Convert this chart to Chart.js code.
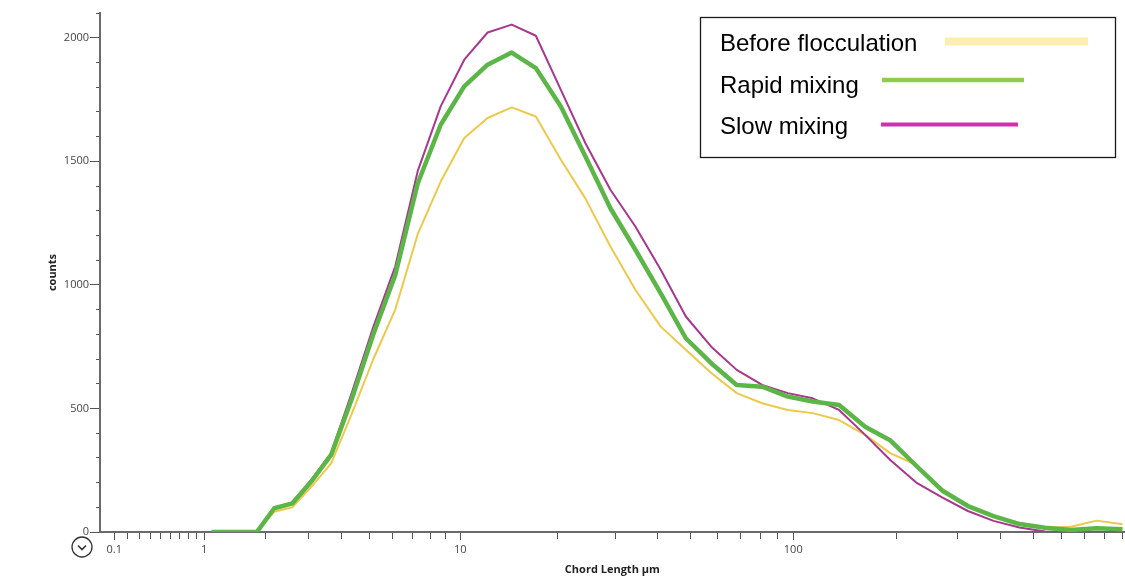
<!DOCTYPE html>
<html>
<head>
<meta charset="utf-8">
<script src="https://cdn.jsdelivr.net/npm/chart.js@4/dist/chart.umd.min.js"></script>
<style>
  html, body { margin: 0; padding: 0; background: #fff; }
  #wrap { width: 1125px; height: 576px; }
</style>
</head>
<body>
<div id="wrap"><canvas id="cld-chart" width="1125" height="576"></canvas></div>
<script>
// Chord length bins (µm) and counts per bin
const chordLength = [1.10, 1.30, 1.55, 1.84, 2.19, 2.60, 3.08, 3.66, 4.35, 5.17,
    6.14, 7.29, 8.66, 10.3, 12.2, 14.5, 17.2, 20.5, 24.3, 28.9,
    34.3, 40.8, 48.4, 57.5, 68.3, 81.1, 96.4, 114, 136, 162,
    192, 228, 271, 322, 382, 454, 539, 640, 760, 903];

const beforeFlocculation = [0, 0, 0, 0, 82, 100, 183, 278, 480, 700,
    900, 1205, 1418, 1594, 1675, 1718, 1681, 1506, 1350, 1155,
    980, 831, 737, 643, 562, 521, 494, 481, 453, 393,
    318, 272, 175, 105, 64, 38, 17, 21, 46, 31];

const rapidMixing = [0, 0, 0, 0, 96, 116, 204, 312, 540, 800,
    1040, 1410, 1648, 1803, 1891, 1940, 1877, 1722, 1520, 1310,
    1142, 966, 784, 683, 595, 588, 548, 528, 514, 426,
    370, 268, 168, 105, 64, 32, 17, 8, 15, 11];

const slowMixing = [0, 0, 0, 0, 98, 118, 210, 320, 565, 830,
    1075, 1460, 1722, 1911, 2021, 2053, 2008, 1789, 1574, 1385,
    1236, 1061, 872, 750, 656, 595, 562, 541, 494, 393,
    290, 200, 140, 85, 45, 18, 2, 0, 0, 0];

const seriesLabels = ['Before flocculation', 'Rapid mixing', 'Slow mixing'];

// x axis ticks: every unit of each decade, labels only on the decades
const xTicks = [0.1, 0.2, 0.3, 0.4, 0.5, 0.6, 0.7, 0.8, 0.9,
    1, 2, 3, 4, 5, 6, 7, 8, 9,
    10, 20, 30, 40, 50, 60, 70, 80, 90,
    100, 200, 300, 400, 500, 600, 700, 800, 900];
const xLabels = [0.1, 1, 10, 100];

// log10(1 + x) axis, so that zero sits on the left edge
class Log1pScale extends Chart.Scale {
    static id = 'log1p';
    static defaults = {};

    determineDataLimits() {
        this.min = this.options.min;
        this.max = this.options.max;
    }
    buildTicks() {
        return xTicks.map(v => ({ value: v, major: xLabels.includes(v) }));
    }
    getLabelForValue(v) {
        return String(v);
    }
    configure() {
        super.configure();
        this._start = Math.log10(1 + this.min);
        this._range = Math.log10(1 + this.max) - this._start;
    }
    getPixelForValue(v) {
        return this.getPixelForDecimal((Math.log10(1 + v) - this._start) / this._range);
    }
    getValueForPixel(p) {
        return Math.pow(10, this._start + this.getDecimalForPixel(p) * this._range) - 1;
    }
}
Chart.register(Log1pScale);

const lineColors = ['#ecc94b', '#5cb547', '#a8378f'];
const lineWidths = [2, 4.5, 2];
const drawOrder = [2, 0, 1];

// legend swatches are lighter than the plotted lines
const legendColors = ['#fcedb3', '#8fcb4c', '#d42eae'];
const legendWidths = [8, 4.5, 4];

function toPoints(values) {
    return chordLength.map((x, i) => ({ x: x, y: values[i] }));
}

// Boxed legend in the upper right
const boxLegend = {
    id: 'boxLegend',
    afterDraw(chart) {
        const ctx = chart.ctx;
        ctx.save();
        ctx.fillStyle = '#fff';
        ctx.fillRect(700, 17, 415, 140);
        ctx.strokeStyle = '#1a1a1a';
        ctx.lineWidth = 1.3;
        ctx.strokeRect(700.5, 17.5, 415, 140);

        const rows = [
            { textY: 51, lineY: 41.5, x1: 945, x2: 1088 },
            { textY: 93, lineY: 80, x1: 882, x2: 1024 },
            { textY: 134, lineY: 124.5, x1: 881, x2: 1018 }
        ];
        ctx.font = '24px "Liberation Sans", Arial, sans-serif';
        ctx.textBaseline = 'alphabetic';
        rows.forEach((r, i) => {
            ctx.fillStyle = '#000';
            ctx.fillText(chart.data.datasets[i].label, 720, r.textY);
            ctx.strokeStyle = legendColors[i];
            ctx.lineWidth = legendWidths[i];
            ctx.beginPath();
            ctx.moveTo(r.x1, r.lineY);
            ctx.lineTo(r.x2, r.lineY);
            ctx.stroke();
        });
        ctx.restore();
    }
};

// Small round expand button under the y axis
const expandButton = {
    id: 'expandButton',
    afterDraw(chart) {
        const ctx = chart.ctx;
        const cx = chart.chartArea.left - 18;
        const cy = chart.chartArea.bottom + 15;
        ctx.save();
        ctx.strokeStyle = '#333';
        ctx.lineWidth = 1.3;
        ctx.beginPath();
        ctx.arc(cx, cy, 10, 0, Math.PI * 2);
        ctx.stroke();
        ctx.lineWidth = 1.6;
        ctx.beginPath();
        ctx.moveTo(cx - 4, cy - 1.5);
        ctx.lineTo(cx, cy + 2.5);
        ctx.lineTo(cx + 4, cy - 1.5);
        ctx.stroke();
        ctx.restore();
    }
};

const tickFont = { family: '"Open Sans", "Noto Sans", sans-serif', size: 11 };
const titleFont = { family: '"Open Sans", "Noto Sans", sans-serif', size: 11, weight: 'bold' };

const ctx = document.getElementById('cld-chart').getContext('2d');
const chart = new Chart(ctx, {
    type: 'line',
    data: {
        datasets: [beforeFlocculation, rapidMixing, slowMixing].map((values, i) => ({
            label: seriesLabels[i],
            data: toPoints(values),
            borderColor: lineColors[i],
            borderWidth: lineWidths[i],
            borderJoinStyle: 'round',
            pointRadius: 0,
            tension: 0,
            fill: false,
            order: drawOrder[i]
        }))
    },
    options: {
        responsive: false,
        animation: false,
        layout: { padding: { top: 13, left: 0, right: 0, bottom: 0 } },
        plugins: {
            legend: { display: false },
            tooltip: { enabled: false }
        },
        scales: {
            x: {
                type: 'log1p',
                min: 0,
                max: 916,
                afterFit: s => { s.height = 44; },
                border: { color: '#6a6a6a', width: 2 },
                grid: {
                    drawOnChartArea: false,
                    tickLength: 8,
                    tickColor: '#555',
                    tickBorderDash: c => (c.tick && c.tick.major ? [] : [6, 20])
                },
                ticks: {
                    autoSkip: false,
                    maxRotation: 0,
                    padding: 3,
                    color: '#444',
                    font: tickFont,
                    callback: v => (xLabels.includes(v) ? String(v) : '')
                },
                title: {
                    display: true,
                    text: 'Chord Length µm',
                    color: '#222',
                    font: titleFont,
                    padding: { top: 0, bottom: 0 }
                }
            },
            y: {
                min: 0,
                max: 2100,
                afterFit: s => { s.width = 100; },
                border: { color: '#6a6a6a', width: 2 },
                grid: {
                    drawOnChartArea: false,
                    tickLength: 10,
                    tickColor: '#555',
                    tickBorderDash: c => (c.tick && c.tick.value % 500 === 0 ? [] : [0, 6, 4, 20])
                },
                ticks: {
                    stepSize: 100,
                    autoSkip: false,
                    padding: 1,
                    color: '#444',
                    font: tickFont,
                    callback: v => (v % 500 === 0 ? v : '')
                },
                title: {
                    display: true,
                    text: 'counts',
                    color: '#222',
                    font: titleFont,
                    padding: { top: 46, bottom: 0 }
                }
            }
        }
    },
    plugins: [boxLegend, expandButton]
});
</script>
</body>
</html>
